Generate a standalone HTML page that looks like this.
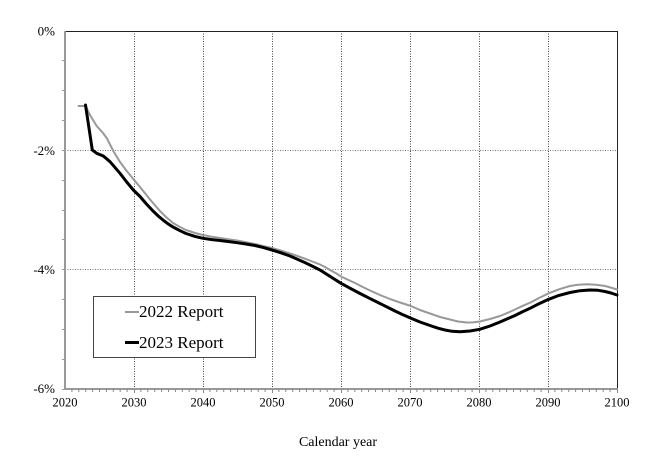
<!DOCTYPE html>
<html><head><meta charset="utf-8"><style>
html,body{margin:0;padding:0;background:#fff;}
svg{display:block;}
text{font-family:"Liberation Serif",serif;fill:#000;}
</style></head><body>
<svg width="648" height="460" viewBox="0 0 648 460" xmlns="http://www.w3.org/2000/svg">
<rect width="648" height="460" fill="#fff"/>
<g stroke="#444" stroke-width="1" stroke-dasharray="1,1.5">
<line x1="134.5" y1="31" x2="134.5" y2="389"/>
<line x1="203.5" y1="31" x2="203.5" y2="389"/>
<line x1="272.5" y1="31" x2="272.5" y2="389"/>
<line x1="341.5" y1="31" x2="341.5" y2="389"/>
<line x1="410.5" y1="31" x2="410.5" y2="389"/>
<line x1="479.5" y1="31" x2="479.5" y2="389"/>
<line x1="548.5" y1="31" x2="548.5" y2="389"/>
</g>
<g stroke="#777" stroke-width="1" stroke-dasharray="1,1.5">
<line x1="65" y1="150.5" x2="617" y2="150.5"/>
<line x1="65" y1="269.5" x2="617" y2="269.5"/>
</g>
<line x1="65" y1="31.5" x2="617.5" y2="31.5" stroke="#222" stroke-width="1"/>
<line x1="617.5" y1="31" x2="617.5" y2="389" stroke="#222" stroke-width="1"/>
<line x1="65" y1="31" x2="65" y2="390" stroke="#999" stroke-width="2"/>
<line x1="64" y1="389" x2="618" y2="389" stroke="#999" stroke-width="2"/>
<g stroke="#999" stroke-width="1">
<line x1="62" y1="60.5" x2="65" y2="60.5"/>
<line x1="62" y1="90.5" x2="65" y2="90.5"/>
<line x1="62" y1="120.5" x2="65" y2="120.5"/>
<line x1="62" y1="150.5" x2="65" y2="150.5"/>
<line x1="62" y1="180.5" x2="65" y2="180.5"/>
<line x1="62" y1="210.5" x2="65" y2="210.5"/>
<line x1="62" y1="239.5" x2="65" y2="239.5"/>
<line x1="62" y1="269.5" x2="65" y2="269.5"/>
<line x1="62" y1="299.5" x2="65" y2="299.5"/>
<line x1="62" y1="329.5" x2="65" y2="329.5"/>
<line x1="62" y1="359.5" x2="65" y2="359.5"/>
<line x1="62" y1="389.5" x2="65" y2="389.5"/>
</g>
<g font-size="13" text-anchor="end">
<text x="55" y="35.5">0%</text>
<text x="55" y="155">-2%</text>
<text x="55" y="274">-4%</text>
<text x="55" y="393">-6%</text>
</g>
<g font-size="12.5" text-anchor="middle">
<text x="65" y="406.5">2020</text>
<text x="134" y="406.5">2030</text>
<text x="203" y="406.5">2040</text>
<text x="272" y="406.5">2050</text>
<text x="341" y="406.5">2060</text>
<text x="410" y="406.5">2070</text>
<text x="479" y="406.5">2080</text>
<text x="548" y="406.5">2090</text>
<text x="617" y="406.5">2100</text>
</g>
<text x="338" y="446" font-size="14" text-anchor="middle">Calendar year</text>
<polyline fill="none" stroke="#999" stroke-width="2" stroke-linejoin="round" stroke-linecap="round"
points="78.5,106 85.5,106 90,115 96.7,126 103,133 107,138.5 113.3,151 120,162 126.7,171 133.3,179 140,187 148,197 153,203 160,211 166,217 173,223 180,227 186,230 195,233 203,235 212,236.8 220,238 228,239.2 237,240.5 246,242.2 255,244 263,246 272,248 281,250.6 290,253.5 296,255.5 303,258 311,261 320,264.5 325,267 330,270 336,273.2 341,276.5 348,279.8 355,283 362,286.6 370,290.5 380,295 390,299 400,302.5 411,306 420,310 430,313.5 440,317 450,319.5 458,321.5 466.7,322.5 473,322.4 480,321.5 490,319 500,316 508,312.7 515,309.5 522,306.2 530,302.7 539,298 548.7,293.3 559,289.3 570,286 578,284.8 587,284.3 596,284.7 605,286 611,287.6 617,289.5"/>
<polyline fill="none" stroke="#000" stroke-width="3" stroke-linejoin="round" stroke-linecap="round"
points="85.5,105 92.3,150 96.7,153.3 103.3,156 110,161.7 120,173.3 126.7,182 133.3,190 140,196.5 146,203.5 153,211 158,215.8 163,220 168,223.8 173,227 180,230.7 186,233.5 195,236.4 203,238.3 212,239.6 220,240.5 228,241.5 237,242.7 246,244 255,245.5 263,247.4 272,250 281,252.8 290,256 296,258.6 303,261.7 311,265.5 320,270 326,273.8 333,278.3 341,283.3 350,288.2 360,293.5 370,298.6 380,303.5 388,307.5 395,311 403,314.8 411,318.3 420,322 430,325.5 438,328.2 445,330 452,331.3 460,331.7 470,331 479.7,329.3 490,326 500,322 508,318.5 515,315.5 522,312 530,308.3 539,303.7 548.7,299.3 559,295.4 570,292.5 580,290.7 590,290 598,290.3 605,291.5 611,293 617,295"/>
<rect x="93.5" y="296.5" width="162" height="61" fill="#fff" stroke="#444" stroke-width="1"/>
<line x1="125" y1="312" x2="139" y2="312" stroke="#999" stroke-width="2"/>
<line x1="125" y1="342.5" x2="139" y2="342.5" stroke="#000" stroke-width="3"/>
<text x="139" y="317" font-size="17">2022 Report</text>
<text x="139" y="348" font-size="17">2023 Report</text>
<g stroke="#888" stroke-width="1">
<line x1="71.9" y1="389" x2="71.9" y2="392"/><line x1="78.8" y1="389" x2="78.8" y2="392"/><line x1="85.7" y1="389" x2="85.7" y2="392"/><line x1="92.6" y1="389" x2="92.6" y2="392"/><line x1="99.5" y1="389" x2="99.5" y2="392"/><line x1="106.4" y1="389" x2="106.4" y2="392"/><line x1="113.3" y1="389" x2="113.3" y2="392"/><line x1="120.2" y1="389" x2="120.2" y2="392"/><line x1="127.1" y1="389" x2="127.1" y2="392"/>
<line x1="140.9" y1="389" x2="140.9" y2="392"/><line x1="147.8" y1="389" x2="147.8" y2="392"/><line x1="154.7" y1="389" x2="154.7" y2="392"/><line x1="161.6" y1="389" x2="161.6" y2="392"/><line x1="168.5" y1="389" x2="168.5" y2="392"/><line x1="175.4" y1="389" x2="175.4" y2="392"/><line x1="182.3" y1="389" x2="182.3" y2="392"/><line x1="189.2" y1="389" x2="189.2" y2="392"/><line x1="196.1" y1="389" x2="196.1" y2="392"/>
<line x1="209.9" y1="389" x2="209.9" y2="392"/><line x1="216.8" y1="389" x2="216.8" y2="392"/><line x1="223.7" y1="389" x2="223.7" y2="392"/><line x1="230.6" y1="389" x2="230.6" y2="392"/><line x1="237.5" y1="389" x2="237.5" y2="392"/><line x1="244.4" y1="389" x2="244.4" y2="392"/><line x1="251.3" y1="389" x2="251.3" y2="392"/><line x1="258.2" y1="389" x2="258.2" y2="392"/><line x1="265.1" y1="389" x2="265.1" y2="392"/>
<line x1="278.9" y1="389" x2="278.9" y2="392"/><line x1="285.8" y1="389" x2="285.8" y2="392"/><line x1="292.7" y1="389" x2="292.7" y2="392"/><line x1="299.6" y1="389" x2="299.6" y2="392"/><line x1="306.5" y1="389" x2="306.5" y2="392"/><line x1="313.4" y1="389" x2="313.4" y2="392"/><line x1="320.3" y1="389" x2="320.3" y2="392"/><line x1="327.2" y1="389" x2="327.2" y2="392"/><line x1="334.1" y1="389" x2="334.1" y2="392"/>
<line x1="347.9" y1="389" x2="347.9" y2="392"/><line x1="354.8" y1="389" x2="354.8" y2="392"/><line x1="361.7" y1="389" x2="361.7" y2="392"/><line x1="368.6" y1="389" x2="368.6" y2="392"/><line x1="375.5" y1="389" x2="375.5" y2="392"/><line x1="382.4" y1="389" x2="382.4" y2="392"/><line x1="389.3" y1="389" x2="389.3" y2="392"/><line x1="396.2" y1="389" x2="396.2" y2="392"/><line x1="403.1" y1="389" x2="403.1" y2="392"/>
<line x1="416.9" y1="389" x2="416.9" y2="392"/><line x1="423.8" y1="389" x2="423.8" y2="392"/><line x1="430.7" y1="389" x2="430.7" y2="392"/><line x1="437.6" y1="389" x2="437.6" y2="392"/><line x1="444.5" y1="389" x2="444.5" y2="392"/><line x1="451.4" y1="389" x2="451.4" y2="392"/><line x1="458.3" y1="389" x2="458.3" y2="392"/><line x1="465.2" y1="389" x2="465.2" y2="392"/><line x1="472.1" y1="389" x2="472.1" y2="392"/>
<line x1="485.9" y1="389" x2="485.9" y2="392"/><line x1="492.8" y1="389" x2="492.8" y2="392"/><line x1="499.7" y1="389" x2="499.7" y2="392"/><line x1="506.6" y1="389" x2="506.6" y2="392"/><line x1="513.5" y1="389" x2="513.5" y2="392"/><line x1="520.4" y1="389" x2="520.4" y2="392"/><line x1="527.3" y1="389" x2="527.3" y2="392"/><line x1="534.2" y1="389" x2="534.2" y2="392"/><line x1="541.1" y1="389" x2="541.1" y2="392"/>
<line x1="554.9" y1="389" x2="554.9" y2="392"/><line x1="561.8" y1="389" x2="561.8" y2="392"/><line x1="568.7" y1="389" x2="568.7" y2="392"/><line x1="575.6" y1="389" x2="575.6" y2="392"/><line x1="582.5" y1="389" x2="582.5" y2="392"/><line x1="589.4" y1="389" x2="589.4" y2="392"/><line x1="596.3" y1="389" x2="596.3" y2="392"/><line x1="603.2" y1="389" x2="603.2" y2="392"/><line x1="610.1" y1="389" x2="610.1" y2="392"/>
<line x1="134.5" y1="389" x2="134.5" y2="393"/><line x1="203.5" y1="389" x2="203.5" y2="393"/><line x1="272.5" y1="389" x2="272.5" y2="393"/><line x1="341.5" y1="389" x2="341.5" y2="393"/><line x1="410.5" y1="389" x2="410.5" y2="393"/><line x1="479.5" y1="389" x2="479.5" y2="393"/><line x1="548.5" y1="389" x2="548.5" y2="393"/><line x1="617.5" y1="389" x2="617.5" y2="393"/>
</g>
</svg>
</body></html>
